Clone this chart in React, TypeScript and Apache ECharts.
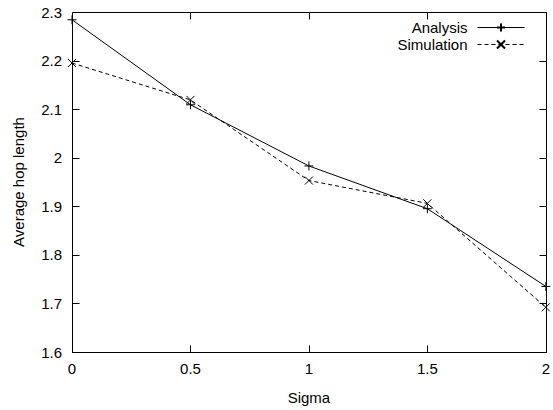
import React, { useEffect, useRef } from "react";
import * as echarts from "echarts";

const sigma = [0, 0.5, 1, 1.5, 2];
const analysis = [2.284, 2.109, 1.983, 1.895, 1.735];
const simulation = [2.195, 2.119, 1.953, 1.906, 1.692];
const xTickValues = [0, 0.5, 1, 1.5, 2];
const yTickValues = [1.6, 1.7, 1.8, 1.9, 2.0, 2.1, 2.2, 2.3];
const xTicks = { min: 0, max: 2, interval: 0.5 };
const yTicks = { min: 1.6, max: 2.3, interval: 0.1 };

const FONT = "'Liberation Sans', Arial, sans-serif";
const PLUS = "path://M0,5L10,5M5,0L5,10";
const CROSS = "path://M0,0L10,10M10,0L0,10";
const TICK_LEN = 7;

const px = (v: number) => Math.round(v) + 0.5;

export default function App() {
  const ref = useRef<HTMLDivElement>(null);
  useEffect(() => {
    if (!ref.current) return;
    document.body.style.margin = "0";
    const chart = echarts.init(ref.current, undefined, { renderer: "svg" });
    const label = () => ({ color: "#000", fontFamily: FONT, fontSize: 15 });
    const lineStyle = { stroke: "#000", lineWidth: 1, fill: "none" };
    chart.setOption({
      animation: false,
      backgroundColor: "#fff",
      grid: { left: 72, right: 4, top: 12, bottom: 54 },
      legend: {
        right: 23,
        top: 15,
        orient: "vertical",
        align: "right",
        itemWidth: 47,
        itemHeight: 10,
        itemGap: 2,
        lineStyle: { width: 1 },
        textStyle: { color: "#000", fontFamily: FONT, fontSize: 15, padding: [0, 5, 0, 0] },
        data: [{ name: "Analysis" }, { name: "Simulation" }],
      },
      xAxis: {
        type: "value",
        ...xTicks,
        axisLine: { show: false, onZero: false },
        axisTick: { show: false },
        splitLine: { show: false },
        axisLabel: { ...label(), margin: 9 },
        name: "Sigma",
        nameLocation: "middle",
        nameGap: 38,
        nameTextStyle: label(),
      },
      yAxis: {
        type: "value",
        ...yTicks,
        axisLine: { show: false, onZero: false },
        axisTick: { show: false },
        splitLine: { show: false },
        axisLabel: { ...label(), margin: 10 },
        name: "Average hop length",
        nameLocation: "middle",
        nameGap: 46,
        nameTextStyle: label(),
      },
      series: [
        {
          name: "frame",
          type: "custom",
          silent: true,
          z: 1,
          data: [[xTicks.min, yTicks.min]],
          renderItem: (params: any, api: any) => {
            const cs = params.coordSys;
            const x0 = px(cs.x);
            const y0 = px(cs.y);
            const x1 = px(cs.x + cs.width);
            const y1 = px(cs.y + cs.height);
            const children: any[] = [
              {
                type: "polyline",
                shape: { points: [[x0, y0], [x1, y0], [x1, y1], [x0, y1], [x0, y0]] },
                style: lineStyle,
              },
            ];
            xTickValues.forEach((v) => {
              const x = px(api.coord([v, yTicks.min])[0]);
              children.push({ type: "polyline", shape: { points: [[x, y1], [x, y1 - TICK_LEN]] }, style: lineStyle });
              children.push({ type: "polyline", shape: { points: [[x, y0], [x, y0 + TICK_LEN]] }, style: lineStyle });
            });
            yTickValues.forEach((v) => {
              const y = px(api.coord([xTicks.min, v])[1]);
              children.push({ type: "polyline", shape: { points: [[x0, y], [x0 + TICK_LEN, y]] }, style: lineStyle });
              children.push({ type: "polyline", shape: { points: [[x1, y], [x1 - TICK_LEN, y]] }, style: lineStyle });
            });
            return { type: "group", children };
          },
        },
        {
          name: "Analysis",
          type: "line",
          z: 3,
          data: sigma.map((x, i) => [x, analysis[i]]),
          symbol: PLUS,
          symbolSize: 9,
          lineStyle: { color: "#000", width: 1 },
          itemStyle: { color: "#000", borderColor: "#000", borderWidth: 1 },
        },
        {
          name: "Simulation",
          type: "line",
          z: 3,
          data: sigma.map((x, i) => [x, simulation[i]]),
          symbol: CROSS,
          symbolSize: 8,
          lineStyle: { color: "#000", width: 1, type: [4, 3] },
          itemStyle: { color: "#000", borderColor: "#000", borderWidth: 1 },
        },
      ],
    });
    return () => chart.dispose();
  }, []);
  return <div ref={ref} style={{ width: 553, height: 410 }} />;
}
